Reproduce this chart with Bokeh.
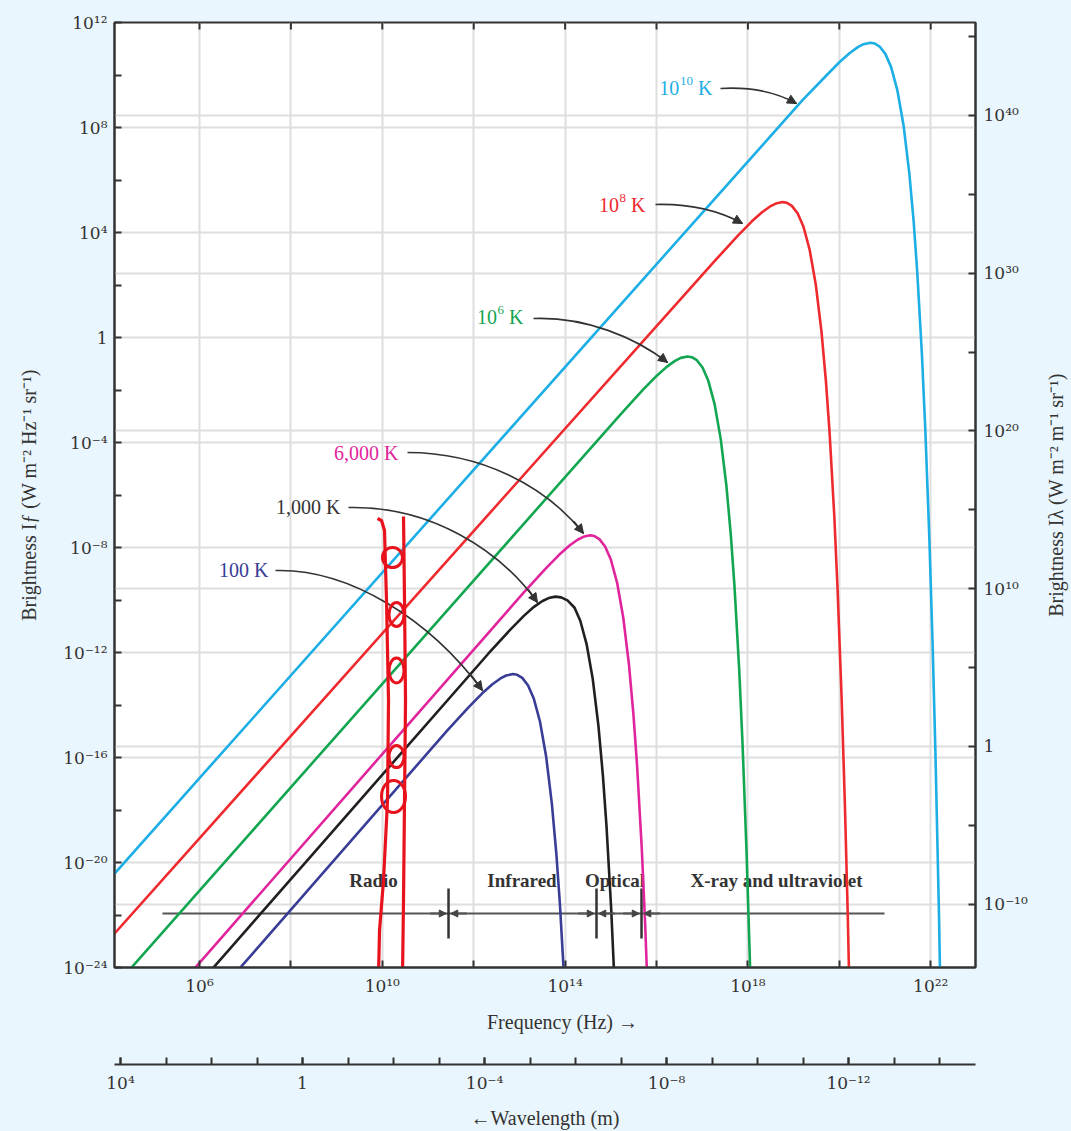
import math
import numpy as np
from bokeh.plotting import figure
from bokeh.models import (Range1d, LogAxis, LogScale, FixedTicker, CustomJSTickFormatter,
                          Grid, Arrow, NormalHead, ColumnDataSource)
from bokeh.layouts import column, row
from bokeh.embed import file_html
from bokeh.resources import INLINE
from bokeh.core.properties import value

FONT = "Liberation Serif"
TICK_FONT = "DejaVu Serif"
BG = "#EAF6FD"
INK = "#333333"
NBSP = "\u00a0"

# ---------------- data: log10 values ----------------
curve_names = ["10¹⁰ K", "10⁸ K", "10⁶ K", "6,000 K", "1,000 K", "100 K"]
curve_colors = ["#1CAEE5", "#EE2A2E", "#13A651", "#E0259C", "#231F20", "#393D96"]
label_colors = ["#1CAEE5", "#EE2A2E", "#13A651", "#E0259C", "#333333", "#393D96"]
# the three power-of-ten labels split as base / exponent / unit
pow_label_exp = ["10", "8", "6"]

logf_1e10 = [4.0, 19.20, 19.706, 20.007, 20.229, 20.405, 20.530, 20.679, 20.773, 20.882, 21.007,
             21.132, 21.270, 21.405, 21.530, 21.627, 21.706, 21.809, 21.882, 21.969, 22.042,
             22.104, 22.183, 22.308]
logI_1e10 = [-20.70, 9.053, 9.962, 10.495, 10.840, 11.062, 11.173, 11.228, 11.201, 11.085, 10.805,
             10.310, 9.422, 8.089, 6.292, 4.411, 2.478, -0.689, -3.509, -7.590, -11.715,
             -15.872, -22.149, -34.803]

logf_1e8 = [4.0, 17.309, 17.786, 18.087, 18.309, 18.485, 18.610, 18.759, 18.853, 18.962, 19.087,
            19.212, 19.350, 19.485, 19.610, 19.707, 19.786, 19.889, 19.962, 20.049, 20.122,
            20.184, 20.263]
logI_1e8 = [-22.98, 2.983, 3.892, 4.425, 4.770, 4.992, 5.103, 5.158, 5.131, 5.015, 4.735,
            4.240, 3.352, 2.019, 0.222, -1.659, -3.592, -6.759, -9.579, -13.660, -17.785,
            -21.942, -28.219]

logf_1e6 = [4.3, 15.229, 15.706, 16.007, 16.229, 16.405, 16.530, 16.679, 16.773, 16.882, 17.007,
            17.132, 17.270, 17.405, 17.530, 17.627, 17.706, 17.809, 17.882, 17.969, 18.042,
            18.104]
logI_1e6 = [-24.42, -2.897, -1.988, -1.455, -1.110, -0.889, -0.777, -0.722, -0.749, -0.865, -1.145,
            -1.640, -2.528, -3.861, -5.658, -7.539, -9.472, -12.639, -15.459, -19.540, -23.665,
            -27.822]

logf_6000 = [5.7, 13.097, 13.574, 13.875, 14.097, 14.273, 14.398, 14.547, 14.641, 14.750, 14.875,
             15.000, 15.138, 15.273, 15.398, 15.495, 15.574, 15.677, 15.750, 15.837]
logI_6000 = [-24.42, -9.712, -8.803, -8.270, -7.925, -7.704, -7.592, -7.537, -7.564, -7.680, -7.960,
             -8.455, -9.343, -10.676, -12.473, -14.354, -16.287, -19.454, -22.274, -26.355]

logf_1000 = [6.1, 12.319, 12.796, 13.097, 13.319, 13.505, 13.640, 13.789, 13.913, 14.052, 14.207,
             14.332, 14.470, 14.605, 14.730, 14.827, 14.906, 15.009, 15.082, 15.169]
logI_1000 = [-24.41, -12.047, -11.138, -10.605, -10.260, -10.039, -9.927, -9.872, -9.899, -10.015,
             -10.295, -10.790, -11.678, -13.011, -14.808, -16.689, -18.622, -21.789, -24.609, -28.690]

logf_100 = [6.7, 11.409, 11.886, 12.187, 12.409, 12.585, 12.710, 12.859, 12.953, 13.062, 13.187,
            13.312, 13.450, 13.585, 13.710, 13.807, 13.886, 13.989]
logI_100 = [-24.39, -14.997, -14.088, -13.555, -13.210, -12.989, -12.877, -12.822, -12.849, -12.965,
            -13.245, -13.740, -14.628, -15.961, -17.758, -19.639, -21.572, -24.739]

curves_logf = [logf_1e10, logf_1e8, logf_1e6, logf_6000, logf_1000, logf_100]
curves_logI = [logI_1e10, logI_1e8, logI_1e6, logI_6000, logI_1000, logI_100]

# temperature labels (right end of text) and their curved pointers (log10 units)
label_logf = [17.225, 15.759, 13.090, 10.354, 9.085, 7.510]
label_logI = [9.486, 5.029, 0.800, -4.381, -6.476, -8.876]
ptr_start_logf = [17.400, 15.978, 13.309, 10.551, 9.260, 7.663]
ptr_start_logI = [9.486, 5.067, 0.724, -4.381, -6.476, -8.876]
ptr_c0_logf = [18.166, 16.853, 14.446, 12.149, 11.055, 9.304]
ptr_c0_logI = [9.562, 5.105, 0.800, -4.381, -6.400, -8.800]
ptr_c1_logf = [18.713, 17.444, 15.540, 13.571, 12.586, 11.055]
ptr_c1_logI = [9.257, 4.762, 0.000, -5.638, -8.114, -10.781]
ptr_end_logf = [19.063, 17.882, 16.241, 14.403, 13.396, 12.193]
ptr_end_logI = [8.914, 4.343, -0.952, -7.467, -10.095, -13.448]

# spectral regions
region_names = ["Radio", "Infrared", "Optical", "X-ray and ultraviolet"]
region_label_logf = [9.807, 13.057, 15.092, 18.626]
region_label_logI = -20.686
region_bounds_logf = [11.449, 14.687, 15.672]
region_line_logf = [5.190, 20.989]
region_line_logI = -21.943
region_bar_logI = [-20.990, -22.895]

# hand-drawn red marks
red_left_logf = [9.895, 9.983, 10.048, 10.092, 10.136, 10.114, 10.026, 9.939, 9.917]
red_left_logI = [-6.895, -6.971, -7.352, -10.019, -13.829, -17.638, -20.686, -22.590, -24.305]
red_right_logf = [10.464, 10.486, 10.508, 10.486, 10.464, 10.442]
red_right_logI = [-6.819, -10.019, -13.829, -17.638, -21.448, -24.343]
red_circle_logf = [10.223, 10.311, 10.311, 10.311, 10.245]
red_circle_logI = [-8.381, -10.552, -12.686, -15.962, -17.486]
red_circle_w = [20, 15, 15, 15, 24]
red_circle_h = [20, 24, 25, 22, 32]

# ticks
freq_major = [1e6, 1e10, 1e14, 1e18, 1e22]
freq_minor = [1e8, 1e12, 1e16, 1e20]
If_major = [1e12, 1e8, 1e4, 1, 1e-4, 1e-8, 1e-12, 1e-16, 1e-20, 1e-24]
If_minor = [1e10, 1e6, 1e2, 1e-2, 1e-6, 1e-10, 1e-14, 1e-18, 1e-22]
Il_major = [1e40, 1e30, 1e20, 1e10, 1, 1e-10]
Il_minor = [1e45, 1e35, 1e25, 1e15, 1e5, 1e-5]
wl_major = [1e4, 1, 1e-4, 1e-8, 1e-12]
wl_minor = [1e4, 1e3, 1e2, 1e1, 1, 1e-1, 1e-2, 1e-3, 1e-4, 1e-5, 1e-6, 1e-7, 1e-8,
            1e-9, 1e-10, 1e-11, 1e-12, 1e-13, 1e-14]


def P(a):
    return np.power(10.0, np.asarray(a, dtype=float))


SUP_JS = """
const e = Math.round(Math.log10(tick));
if (e === 0) { return "1"; }
const m = {"0":"\u2070","1":"\u00b9","2":"\u00b2","3":"\u00b3","4":"\u2074","5":"\u2075",
           "6":"\u2076","7":"\u2077","8":"\u2078","9":"\u2079","-":"\u207b"};
let s = "";
for (const c of String(e)) { s += m[c]; }
return "10" + s;
"""


def style_axis(ax, major, minor):
    ax.ticker = FixedTicker(ticks=major, minor_ticks=minor)
    ax.formatter = CustomJSTickFormatter(code=SUP_JS)
    ax.major_tick_in = 7
    ax.major_tick_out = 0
    ax.minor_tick_in = 7
    ax.minor_tick_out = 0
    ax.major_tick_line_color = INK
    ax.minor_tick_line_color = INK
    ax.major_tick_line_width = 2
    ax.minor_tick_line_width = 2
    ax.axis_line_color = INK
    ax.axis_line_width = 2
    ax.major_label_text_font = TICK_FONT
    ax.major_label_text_font_size = "17px"
    ax.major_label_text_color = INK
    ax.axis_label_text_font = FONT
    ax.axis_label_text_font_size = "20px"
    ax.axis_label_text_font_style = "normal"
    ax.axis_label_text_color = INK


p = figure(width=1041, height=1040, x_axis_type="log", y_axis_type="log",
           x_range=Range1d(10 ** 4.14, 10 ** 22.98), y_range=Range1d(1e-24, 1e12),
           output_backend="svg", toolbar_location=None,
           min_border_left=114, min_border_right=66, min_border_top=22, min_border_bottom=73,
           border_fill_color=BG, background_fill_color="white",
           outline_line_color=INK, outline_line_width=2)

# bottom frequency axis
fax = p.below[0]
style_axis(fax, freq_major, freq_minor)
fax.axis_label = NBSP * 7 + "Frequency (Hz) →"
fax.major_label_standoff = 8
fax.axis_label_standoff = 12

# left axis
lax = p.left[0]
style_axis(lax, If_major, If_minor)
lax.axis_label = "Brightness Iƒ (W m⁻² Hz⁻¹ sr⁻¹)"
lax.major_label_standoff = 7
lax.axis_label_standoff = 20

# right axis (I_lambda) - ticks and tick labels here, its title in a side strip
p.extra_y_ranges = {"ilam": Range1d(10 ** -14.01, 10 ** 45.895)}
p.extra_y_scales = {"ilam": LogScale()}
rax = LogAxis(y_range_name="ilam")
style_axis(rax, Il_major, Il_minor)
rax.major_label_standoff = 8
p.add_layout(rax, "right")

# grids
GRID = "#DEDEDE"
p.xgrid.ticker = FixedTicker(ticks=freq_major + freq_minor)
p.ygrid.ticker = FixedTicker(ticks=If_major)
p.grid.grid_line_color = GRID
p.grid.grid_line_width = 2
p.add_layout(Grid(dimension=1, ticker=FixedTicker(ticks=Il_major), y_range_name="ilam",
                  grid_line_color=GRID, grid_line_width=2))

# top-edge ticks (inward), at the frequency tick positions
top_ticks = freq_major + freq_minor
p.scatter(x=top_ticks, y=[1e12] * len(top_ticks), marker="dash", size=14, angle=math.pi / 2,
          line_color=INK, line_width=2)

# spectral region markers
p.line(P(region_line_logf), P([region_line_logI, region_line_logI]), line_color="#555555", line_width=2)
bx = P(region_bounds_logf)
p.segment(x0=bx, y0=[P(region_bar_logI[0])] * 3, x1=bx, y1=[P(region_bar_logI[1])] * 3,
          line_color=INK, line_width=2.5)
rb = np.asarray(region_bounds_logf)
r_src = ColumnDataSource(dict(
    xs=P(np.concatenate([rb - 0.40, rb + 0.40])),
    xe=P(np.concatenate([rb - 0.05, rb + 0.05])),
    ys=P([region_line_logI] * 6), ye=P([region_line_logI] * 6)))
p.add_layout(Arrow(end=NormalHead(size=7, fill_color="#444444", line_color="#444444", line_width=1),
                   source=r_src, x_start="xs", y_start="ys", x_end="xe", y_end="ye",
                   line_color="#555555", line_width=2))
p.text(x=P(region_label_logf), y=P([region_label_logI] * 4), text=region_names,
       text_font=value(FONT), text_font_size="19px", text_font_style="bold",
       text_color=INK, text_align="center", text_baseline="middle")

# curves
for lf, lI, c in zip(curves_logf, curves_logI, curve_colors):
    p.line(P(lf), P(lI), line_color=c, line_width=2.6)

# temperature labels: plain ones
p.text(x=P(label_logf[3:]), y=P(label_logI[3:]), text=curve_names[3:],
       text_font=value(FONT), text_font_size="20px", text_color=label_colors[3:],
       text_align="right", text_baseline="middle")
# power-of-ten ones, composed as "10" + raised exponent + " K"
unit_w = 19.5          # width of " K" at 20px
exp_w = [6.6 * len(e) for e in pow_label_exp]
px = P(label_logf[:3]); py = P(label_logI[:3]); pc = label_colors[:3]
p.text(x=px, y=py, text=["K"] * 3, text_font=value(FONT), text_font_size="20px",
       text_color=pc, text_align="right", text_baseline="middle")
p.text(x=px, y=py, text=pow_label_exp, x_offset=[-unit_w] * 3, y_offset=[-7] * 3,
       text_font=value(FONT), text_font_size="13px", text_color=pc,
       text_align="right", text_baseline="middle")
p.text(x=px, y=py, text=["10"] * 3, x_offset=[-(unit_w + w + 0.5) for w in exp_w],
       text_font=value(FONT), text_font_size="20px", text_color=pc,
       text_align="right", text_baseline="middle")

# curved pointers
p.bezier(x0=P(ptr_start_logf), y0=P(ptr_start_logI), x1=P(ptr_end_logf), y1=P(ptr_end_logI),
         cx0=P(ptr_c0_logf), cy0=P(ptr_c0_logI), cx1=P(ptr_c1_logf), cy1=P(ptr_c1_logI),
         line_color=INK, line_width=1.6)
ef = np.asarray(ptr_end_logf); eI = np.asarray(ptr_end_logI)
cf = np.asarray(ptr_c1_logf); cI = np.asarray(ptr_c1_logI)
h_src = ColumnDataSource(dict(xs=P(ef + 0.25 * (cf - ef)), ys=P(eI + 0.25 * (cI - eI)),
                              xe=P(ef), ye=P(eI)))
p.add_layout(Arrow(end=NormalHead(size=9, fill_color=INK, line_color=INK, line_width=1),
                   source=h_src, x_start="xs", y_start="ys", x_end="xe", y_end="ye",
                   line_color=INK, line_width=1.6))

# hand-drawn red marks
RED = "#E8121C"
p.line(P(red_left_logf), P(red_left_logI), line_color=RED, line_width=3.2)
p.line(P(red_right_logf), P(red_right_logI), line_color=RED, line_width=3.2)
p.ellipse(x=P(red_circle_logf), y=P(red_circle_logI), width=red_circle_w, height=red_circle_h,
          width_units="screen", height_units="screen", fill_color=None, line_color=RED, line_width=3)

# ---------------- right title strip (reads bottom-to-top) ----------------
r = figure(width=30, height=1040, x_range=Range1d(0, 1), y_range=Range1d(0, 1),
           output_backend="svg", toolbar_location=None, x_axis_location=None,
           min_border_left=0, min_border_right=0, min_border_top=22, min_border_bottom=73,
           border_fill_color=BG, background_fill_color=BG, outline_line_color=None)
r.grid.visible = False
ry = r.left[0]
ry.ticker = FixedTicker(ticks=[])
ry.axis_line_color = None
ry.major_tick_line_color = None
ry.minor_tick_line_color = None
ry.major_label_standoff = 0
ry.axis_label_standoff = 0
ry.axis_label = "Brightness Iλ (W m⁻² m⁻¹ sr⁻¹)"
ry.axis_label_text_font = FONT
ry.axis_label_text_font_size = "20px"
ry.axis_label_text_font_style = "normal"
ry.axis_label_text_color = INK

# ---------------- wavelength axis strip ----------------
q = figure(width=1071, height=91, x_axis_type="log",
           x_range=Range1d(10 ** 4.132, 10 ** -14.79), y_range=Range1d(0, 1),
           output_backend="svg", toolbar_location=None, y_axis_location=None,
           min_border_left=114, min_border_right=96, min_border_top=0, min_border_bottom=67,
           border_fill_color=BG, background_fill_color=BG, outline_line_color=None)
q.grid.visible = False
wax = q.below[0]
style_axis(wax, wl_major, wl_minor)
wax.axis_label = "←Wavelength (m)"
wax.major_label_standoff = 8
wax.axis_label_standoff = 11

top_row = row(p, r, spacing=0, styles={"background-color": BG})
layout = column(top_row, q, spacing=0, styles={"background-color": BG})
open("out.html", "w").write(file_html(layout, INLINE))
